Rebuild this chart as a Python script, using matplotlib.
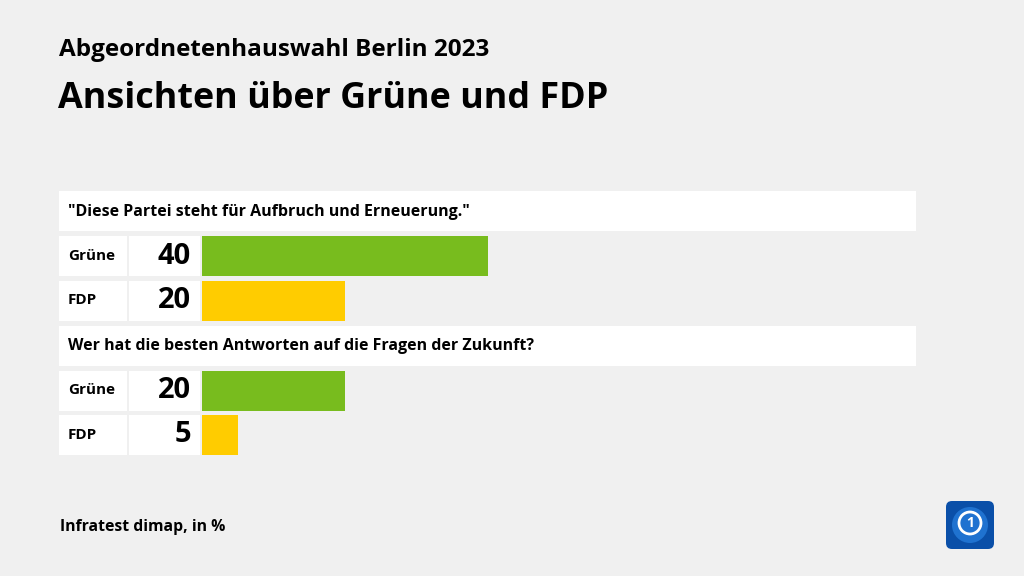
import matplotlib.pyplot as plt
from matplotlib.patches import FancyBboxPatch, Rectangle, Circle

plt.rcParams['font.family'] = ['Open Sans', 'DejaVu Sans']

title_top = "Abgeordnetenhauswahl Berlin 2023"
title_main = "Ansichten über Grüne und FDP"
source = "Infratest dimap, in %"

questions = ['"Diese Partei steht für Aufbruch und Erneuerung."',
             "Wer hat die besten Antworten auf die Fragen der Zukunft?"]
parties = ["Grüne", "FDP"]
values = [[40, 20], [20, 5]]
colors = {"Grüne": "#78bc1e", "FDP": "#ffcc00"}

bg = "#f0f0f0"
fig = plt.figure(figsize=(10.24, 5.76), dpi=100, facecolor=bg)
ax = fig.add_axes([0, 0, 1, 1])
ax.set_xlim(0, 1024)
ax.set_ylim(576, 0)
ax.axis("off")
ax.set_facecolor(bg)

ax.text(59, 50, title_top, fontsize=17.5, fontweight="bold", va="center", ha="left")
ax.text(58, 99, title_main, fontsize=25.8, fontweight="bold", va="center", ha="left")
ax.text(60, 527, source, fontsize=11.3, fontweight="bold", va="center", ha="left")

scale = 7.15  # px per percent
bar_left = 202
y = 191
for q, vals in zip(questions, values):
    ax.add_patch(Rectangle((59, y), 857, 40, facecolor="white", edgecolor="none"))
    ax.text(68, y + 21, q, fontsize=11.5, fontweight="bold", va="center", ha="left")
    y += 45
    for p, v in zip(parties, vals):
        ax.add_patch(Rectangle((59, y), 68, 40, facecolor="white", edgecolor="none"))
        ax.add_patch(Rectangle((129, y), 71, 40, facecolor="white", edgecolor="none"))
        ax.text(68, y + 20, p, fontsize=11, fontweight="bold", va="center", ha="left")
        ax.text(191, y + 20, str(v), fontsize=21, fontweight="bold", va="center", ha="right")
        ax.barh(y + 20, v * scale, height=40, left=bar_left, color=colors[p])
        y += 44.5
    y += 0.5

# logo
ax.add_patch(FancyBboxPatch((946, 501), 48, 48, boxstyle="round,pad=0,rounding_size=6",
                            facecolor="#0a4fa8", edgecolor="none"))
ax.add_patch(Circle((970, 525), 18, facecolor="#1f72d0", edgecolor="none"))
ax.add_patch(Circle((970, 523), 11, facecolor="none", edgecolor="white", linewidth=2))
ax.text(970, 523, "1", color="white", fontsize=10, fontweight="bold", ha="center", va="center")

fig.savefig("out.png", dpi=100, facecolor=bg)
